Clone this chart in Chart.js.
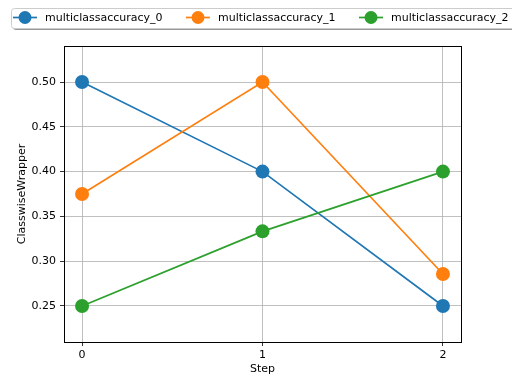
<!DOCTYPE html>
<html>
<head>
<meta charset="utf-8">
<script src="https://cdn.jsdelivr.net/npm/chart.js@4"></script>
<style>
  html, body { margin: 0; padding: 0; background: #fff; }
  #wrap { width: 512px; height: 384px; }
</style>
</head>
<body>
<div id="wrap"><canvas id="chart" width="512" height="384"></canvas></div>
<script>
// data
var steps = [0, 1, 2];
var labels = ['multiclassaccuracy_0', 'multiclassaccuracy_1', 'multiclassaccuracy_2'];
var acc0 = [0.5, 0.4, 0.25];
var acc1 = [0.375, 0.5, 0.2857];
var acc2 = [0.25, 0.3333, 0.4];
var colors = ['#1f77b4', '#ff7f0e', '#2ca02c'];
var xTicks = [0, 1, 2];
var yTicks = [0.25, 0.30, 0.35, 0.40, 0.45, 0.50];

var font = "'DejaVu Sans', sans-serif";
var series = [acc0, acc1, acc2];

function points(vals) {
   return steps.map(function (s, i) { return { x: s, y: vals[i] }; });
}

var datasets = series.map(function (vals, i) {
   return {
      label: labels[i],
      data: points(vals),
      borderColor: colors[i],
      backgroundColor: colors[i],
      borderWidth: 1.7,
      pointRadius: 7,
      pointHoverRadius: 7,
      pointBorderWidth: 0,
      tension: 0,
      order: 3 - i
   };
});

// frame round the plot area, like matplotlib spines
var framePlugin = {
   id: 'frame',
   afterDraw: function (chart) {
      var a = chart.chartArea, ctx = chart.ctx;
      ctx.save();
      ctx.strokeStyle = '#000';
      ctx.lineWidth = 1;
      ctx.strokeRect(Math.round(a.left) + 0.5, Math.round(a.top) + 0.5,
         Math.round(a.right - a.left), Math.round(a.bottom - a.top));
      ctx.restore();
   }
};

// matplotlib-like legend on top, running off the right edge
var legendPlugin = {
   id: 'mplLegend',
   afterDraw: function (chart) {
      var ctx = chart.ctx;
      var bx = 11, by = 8, bw = 520, bh = 20;
      ctx.save();
      ctx.fillStyle = '#999';
      roundRect(ctx, bx + 2, by + 2, bw, bh, 3);
      ctx.fill();
      ctx.fillStyle = '#fff';
      ctx.strokeStyle = '#ccc';
      ctx.lineWidth = 1;
      roundRect(ctx, bx + 0.5, by + 0.5, bw, bh, 3);
      ctx.fill();
      ctx.stroke();
      var xs = [13, 186, 359];
      var cy = 17.5;
      ctx.font = '11px ' + font;
      ctx.textBaseline = 'middle';
      chart.data.datasets.forEach(function (ds, i) {
         var x0 = xs[i];
         ctx.strokeStyle = ds.borderColor;
         ctx.lineWidth = 1.7;
         ctx.beginPath();
         ctx.moveTo(x0, cy);
         ctx.lineTo(x0 + 24, cy);
         ctx.stroke();
         ctx.fillStyle = ds.backgroundColor;
         ctx.beginPath();
         ctx.arc(x0 + 12, cy, 6.5, 0, Math.PI * 2);
         ctx.fill();
         ctx.fillStyle = '#000';
         ctx.fillText(ds.label, x0 + 32, cy + 0.5);
      });
      ctx.restore();
   }
};

function roundRect(ctx, x, y, w, h, r) {
   ctx.beginPath();
   ctx.moveTo(x + r, y);
   ctx.lineTo(x + w - r, y);
   ctx.arcTo(x + w, y, x + w, y + r, r);
   ctx.lineTo(x + w, y + h - r);
   ctx.arcTo(x + w, y + h, x + w - r, y + h, r);
   ctx.lineTo(x + r, y + h);
   ctx.arcTo(x, y + h, x, y + h - r, r);
   ctx.lineTo(x, y + r);
   ctx.arcTo(x, y, x + r, y, r);
   ctx.closePath();
}

var ctx = document.getElementById('chart').getContext('2d');
var chart = new Chart(ctx, {
   type: 'line',
   data: { datasets: datasets },
   options: {
      responsive: false,
      animation: false,
      layout: { padding: { left: 0, right: 51, top: 46, bottom: 0 } },
      plugins: {
         legend: { display: false },
         tooltip: { enabled: false }
      },
      scales: {
         x: {
            type: 'linear',
            min: -0.1,
            max: 2.1,
            afterBuildTicks: function (scale) {
               scale.ticks = xTicks.map(function (v) { return { value: v }; });
            },
            afterFit: function (scale) { scale.height = 42; },
            grid: { color: '#b0b0b0', lineWidth: 0.8, tickLength: 4, tickColor: '#000', drawOnChartArea: true },
            border: { display: false },
            ticks: {
               color: '#000', padding: 3, maxRotation: 0,
               font: { family: font, size: 11 },
               callback: function (v) { return String(v); }
            },
            title: {
               display: true, text: 'Step', color: '#000',
               font: { family: font, size: 11 },
               padding: { top: 0, bottom: 8 }
            }
         },
         y: {
            type: 'linear',
            min: 0.2098,
            max: 0.5402,
            afterBuildTicks: function (scale) {
               scale.ticks = yTicks.map(function (v) { return { value: v }; });
            },
            afterFit: function (scale) { scale.width = 64; },
            grid: { color: '#b0b0b0', lineWidth: 0.8, tickLength: 4, tickColor: '#000' },
            border: { display: false },
            ticks: {
               color: '#000', padding: 4,
               font: { family: font, size: 11 },
               callback: function (v) { return v.toFixed(2); }
            },
            title: {
               display: true, text: 'ClasswiseWrapper', color: '#000',
               font: { family: font, size: 11 },
               padding: { top: 16, bottom: 0 }
            }
         }
      }
   },
   plugins: [framePlugin, legendPlugin]
});
</script>
</body>
</html>
